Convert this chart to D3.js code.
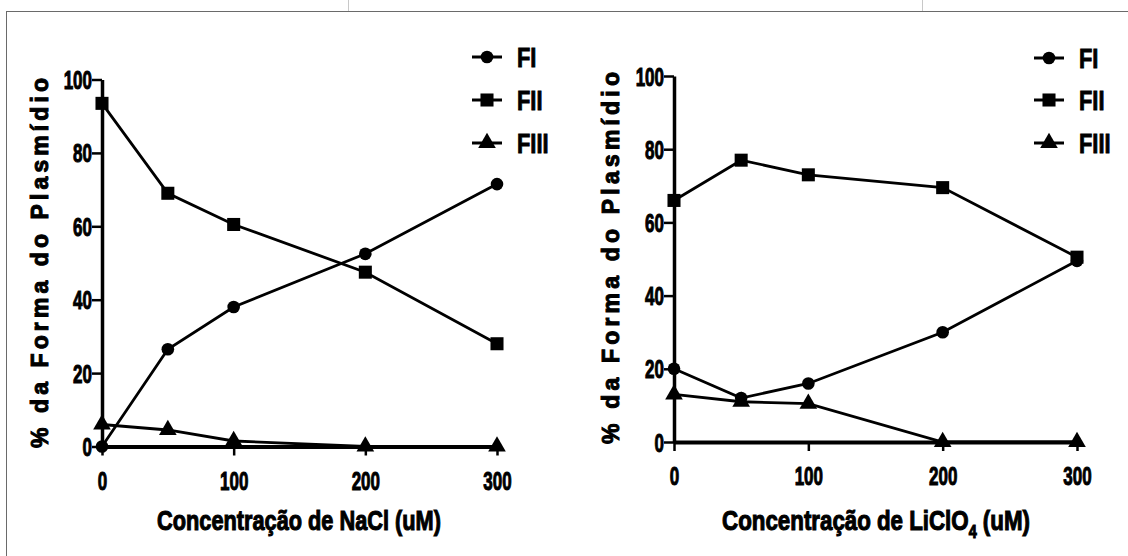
<!DOCTYPE html>
<html>
<head>
<meta charset="utf-8">
<script src="https://cdn.jsdelivr.net/npm/d3@7"></script>
<style>
  html, body { margin: 0; padding: 0; background: #fff; }
  svg { display: block; }
</style>
</head>
<body>
<svg id="chart" width="1128" height="556"></svg>
<script>
// ---- data ----
const concentrations = [0, 50, 100, 200, 300];
const seriesNames = ["FI", "FII", "FIII"];
const xTicks = [0, 100, 200, 300];
const yTicks = [0, 20, 40, 60, 80, 100];

const naclFI   = [0, 26.5, 38, 52.5, 71.5];
const naclFII  = [93.5, 69, 60.5, 47.5, 28];
const naclFIII = [6, 4.5, 1.5, 0, 0];

const liFI   = [20, 12, 16, 30, 49.5];
const liFII  = [66, 77, 73, 69.5, 50.5];
const liFIII = [13, 11, 10.5, 0, 0];

const yLabel = "% da Forma do Plasmídio";
const xLabelNaCl = ["Concentração de NaCl (uM)"];
const xLabelLi = ["Concentração de LiClO", "4", " (uM)"];

// ---- drawing ----
const svg = d3.select("#chart");
const FONT = "'Liberation Sans', Arial, Helvetica, sans-serif";

// frame
svg.append("line").attr("x1", 6).attr("x2", 1128).attr("y1", 11.5).attr("y2", 11.5)
  .attr("stroke", "#6a6a6a").attr("stroke-width", 1);
svg.append("line").attr("x1", 6.5).attr("x2", 6.5).attr("y1", 11).attr("y2", 556)
  .attr("stroke", "#6a6a6a").attr("stroke-width", 1);
[348.5, 922.5].forEach(x => svg.append("line").attr("x1", x).attr("x2", x)
  .attr("y1", 0).attr("y2", 11).attr("stroke", "#c8c8c8").attr("stroke-width", 1));

const symbols = [d3.symbolCircle, d3.symbolSquare, d3.symbolTriangle];
const symSizes = [125, 170, 135];

// condensed bold text: positioned at (x,y) with horizontal squeeze sx
function condText(parent, x, y, str, size, sx, anchor, sw) {
  return parent.append("text")
    .attr("transform", `translate(${x},${y}) scale(${sx},1)`)
    .attr("text-anchor", anchor).attr("dy", "0.36em")
    .attr("font-family", FONT).attr("font-weight", "bold").attr("font-size", size)
    .attr("fill", "#000").attr("stroke", "#000").attr("stroke-width", sw)
    .text(str);
}

function panel(cfg) {
  const x = d3.scaleLinear().domain([0, 300]).range([cfg.x0, cfg.x1]);
  const y = d3.scaleLinear().domain([0, 100]).range([cfg.y0, cfg.y1]);
  const g = svg.append("g");

  // y axis
  const ya = g.append("g").attr("transform", `translate(${cfg.x0},0)`)
    .call(d3.axisLeft(y).tickValues(yTicks).tickSize(10).tickSizeOuter(0));
  ya.select(".domain").attr("stroke-width", 3.5);
  ya.selectAll(".tick line").attr("stroke-width", 2.5);
  ya.selectAll(".tick text").remove();
  ya.selectAll(".tick").each(function (d) {
    condText(d3.select(this), -10, 0, d, 25, 0.68, "end", 1.0);
  });

  // x axis
  const xa = g.append("g").attr("transform", `translate(0,${cfg.y0})`)
    .call(d3.axisBottom(x).tickValues(xTicks).tickSize(9).tickSizeOuter(0));
  xa.select(".domain").attr("stroke-width", 4);
  xa.selectAll(".tick line").attr("stroke-width", 2.5);
  xa.selectAll(".tick text").remove();
  xa.selectAll(".tick").each(function (d) {
    condText(d3.select(this), 0, 34, d, 25, 0.68, "middle", 1.0);
  });

  // series
  const line = d3.line().x((d, i) => x(concentrations[i])).y(d => y(d));
  cfg.series.forEach(vals => {
    g.append("path").attr("d", line(vals)).attr("fill", "none")
      .attr("stroke", "#000").attr("stroke-width", 2.8);
  });
  cfg.series.forEach((vals, si) => {
    g.selectAll(null).data(vals).enter().append("path")
      .attr("transform", (d, i) => `translate(${x(concentrations[i])},${y(d)})`)
      .attr("d", d3.symbol().type(symbols[si]).size(symSizes[si]))
      .attr("fill", "#000");
  });

  // legend
  seriesNames.forEach((name, si) => {
    const ly = cfg.legY[si];
    g.append("line").attr("x1", cfg.legX - 15).attr("x2", cfg.legX + 15)
      .attr("y1", ly).attr("y2", ly).attr("stroke", "#000").attr("stroke-width", 3);
    g.append("path").attr("transform", `translate(${cfg.legX},${ly})`)
      .attr("d", d3.symbol().type(symbols[si]).size(symSizes[si])).attr("fill", "#000");
    condText(g, cfg.legX + 30, ly, name, 28, 0.78, "start", 0.9);
  });

  // y label
  g.append("text")
    .attr("transform", `translate(${cfg.yLabX},${(cfg.yLabTop + cfg.yLabBot) / 2}) rotate(-90)`)
    .attr("text-anchor", "middle").attr("dy", "0.36em")
    .attr("font-family", FONT).attr("font-weight", "bold").attr("font-size", 23)
    .attr("fill", "#000").attr("stroke", "#000").attr("stroke-width", 1.0)
    .attr("textLength", cfg.yLabBot - cfg.yLabTop).attr("lengthAdjust", "spacing")
    .text(yLabel);

  // x label (squeezed to measured target width)
  const xt = g.append("text")
    .attr("text-anchor", "middle").attr("dy", "0.36em")
    .attr("font-family", FONT).attr("font-weight", "bold").attr("font-size", 28)
    .attr("fill", "#000").attr("stroke", "#000").attr("stroke-width", 1.1);
  xt.append("tspan").text(cfg.xLabel[0]);
  if (cfg.xLabel.length > 1) {
    xt.append("tspan").attr("font-size", 18).attr("dy", 8).text(cfg.xLabel[1]);
    xt.append("tspan").attr("dy", -8).text(cfg.xLabel[2]);
  }
  const w = xt.node().getComputedTextLength();
  const sx = cfg.xLabW / w;
  xt.attr("transform", `translate(${cfg.xLabX},520) scale(${sx},1)`);
}

panel({
  x0: 102, x1: 497, y0: 446.5, y1: 79.5,
  series: [naclFI, naclFII, naclFIII],
  legX: 487, legY: [57, 100, 143],
  yLabX: 40, yLabTop: 78, yLabBot: 448,
  xLabX: 299, xLabW: 284, xLabel: xLabelNaCl
});
panel({
  x0: 674, x1: 1077, y0: 442, y1: 76,
  series: [liFI, liFII, liFIII],
  legX: 1049, legY: [58, 100, 143],
  yLabX: 611, yLabTop: 72, yLabBot: 444,
  xLabX: 876, xLabW: 308, xLabel: xLabelLi
});
</script>
</body>
</html>
